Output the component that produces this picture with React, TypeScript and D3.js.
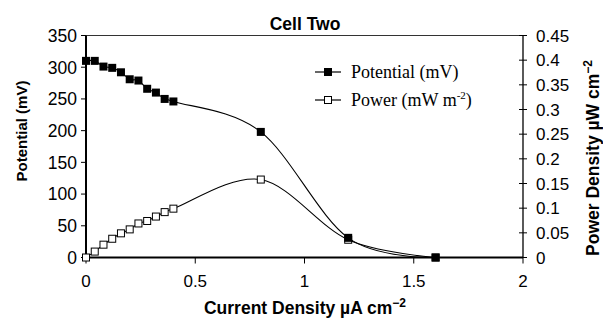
import React from "react"
import * as d3 from "d3"

// current density (µA cm^-2)
const current = [0, 0.04, 0.08, 0.12, 0.16, 0.2, 0.24, 0.28, 0.32, 0.36, 0.4, 0.8, 1.2, 1.6]
// potential (mV), left axis
const potential = [310, 310, 301, 299, 292, 281, 279, 266, 260, 250, 246, 198, 31, 0]
// power density, right axis
const power = [0, 0.012, 0.026, 0.038, 0.049, 0.057, 0.069, 0.074, 0.083, 0.092, 0.099, 0.158, 0.036, 0]

const xTicks = [0, 0.5, 1, 1.5, 2]
const leftTicks = [0, 50, 100, 150, 200, 250, 300, 350]
const rightTicks = [0, 0.05, 0.1, 0.15, 0.2, 0.25, 0.3, 0.35, 0.4, 0.45]

const W = 603
const H = 320
const left = 86
const right = 523
const top = 35.5
const bottom = 257.5

const sans = "Liberation Sans, Arial, sans-serif"
const serif = "Liberation Serif, Times New Roman, serif"

export default function App() {
  const x = d3.scaleLinear().domain([0, 2]).range([left, right])
  const yL = d3.scaleLinear().domain([0, 350]).range([bottom, top])
  const yR = d3.scaleLinear().domain([0, 0.45]).range([bottom, top])

  const potPts: [number, number][] = current.map((c, i) => [x(c), yL(potential[i])])
  const powPts: [number, number][] = current.map((c, i) => [x(c), yR(power[i])])
  const line = d3.line().curve(d3.curveCardinal.tension(0))

  const fmt = (v: number) => String(+v.toFixed(2))

  return (
    <svg width={W} height={H} style={{ position: "absolute", left: 0, top: 0, background: "#fff" }}>
      <rect width={W} height={H} fill="#fff" />
      {/* title */}
      <text x={305} y={30} textAnchor="middle" fontFamily={sans} fontWeight="bold" fontSize={17.5}>
        Cell Two
      </text>

      {/* frame */}
      <line x1={left} x2={right} y1={top} y2={top} stroke="#333" strokeWidth={1} />
      <line x1={right} x2={right} y1={top} y2={bottom} stroke="#000" strokeWidth={1.3} />
      <line x1={left} x2={left} y1={top} y2={bottom + 1} stroke="#000" strokeWidth={2} />
      <line x1={left - 1} x2={right} y1={bottom} y2={bottom} stroke="#000" strokeWidth={2} />

      {/* left ticks */}
      {leftTicks.map((t) => (
        <g key={"l" + t}>
          <line x1={left - 5} x2={left} y1={yL(t)} y2={yL(t)} stroke="#000" />
          <text x={77} y={yL(t)} dy="0.36em" textAnchor="end" fontFamily={sans} fontSize={17.5}>
            {t}
          </text>
        </g>
      ))}

      {/* right ticks */}
      {rightTicks.map((t) => (
        <g key={"r" + t}>
          <line x1={right - 4} x2={right + 4} y1={yR(t)} y2={yR(t)} stroke="#000" />
          <text x={536} y={yR(t)} dy="0.36em" textAnchor="start" fontFamily={sans} fontSize={17}>
            {fmt(t)}
          </text>
        </g>
      ))}

      {/* x ticks */}
      {xTicks.map((t) => (
        <g key={"x" + t}>
          <line x1={x(t)} x2={x(t)} y1={bottom} y2={bottom + 6} stroke="#000" />
          <text x={x(t)} y={287} textAnchor="middle" fontFamily={sans} fontSize={17}>
            {fmt(t)}
          </text>
        </g>
      ))}

      {/* axis titles */}
      <text
        transform={`translate(27,131) rotate(-90)`}
        textAnchor="middle"
        fontFamily={sans}
        fontWeight="bold"
        fontSize={15}
      >
        Potential (mV)
      </text>
      <text
        transform={`translate(599,158) rotate(-90)`}
        textAnchor="middle"
        fontFamily={sans}
        fontWeight="bold"
        fontSize={17.5}
      >
        Power Density µW cm<tspan dy={-7} fontSize={12}>−2</tspan>
      </text>
      <text x={305} y={314} textAnchor="middle" fontFamily={sans} fontWeight="bold" fontSize={17.5}>
        Current Density µA cm<tspan dy={-7} fontSize={12}>−2</tspan>
      </text>

      {/* curves */}
      <path d={line(powPts) || ""} fill="none" stroke="#000" strokeWidth={1.1} />
      <path d={line(potPts) || ""} fill="none" stroke="#000" strokeWidth={1.1} />

      {/* markers */}
      {powPts.map(([px, py], i) => (
        <rect key={"pw" + i} x={px - 3.5} y={py - 3.5} width={7} height={7} fill="#fff" stroke="#000" strokeWidth={1} />
      ))}
      {potPts.map(([px, py], i) => (
        <rect key={"pt" + i} x={px - 4} y={py - 4} width={8} height={8} fill="#000" />
      ))}

      {/* legend */}
      <g fontFamily={serif} fontSize={18}>
        <line x1={315} x2={341} y1={72} y2={72} stroke="#000" strokeWidth={1.2} />
        <rect x={324} y={68} width={8} height={8} fill="#000" />
        <text x={351} y={78}>Potential (mV)</text>
        <line x1={315} x2={341} y1={100} y2={100} stroke="#000" strokeWidth={1.2} />
        <rect x={324.5} y={96.5} width={7} height={7} fill="#fff" stroke="#000" />
        <text x={351} y={106}>
          Power (mW m<tspan dy={-7} fontSize={11}>-2</tspan>
          <tspan dy={7}>)</tspan>
        </text>
      </g>
    </svg>
  )
}
